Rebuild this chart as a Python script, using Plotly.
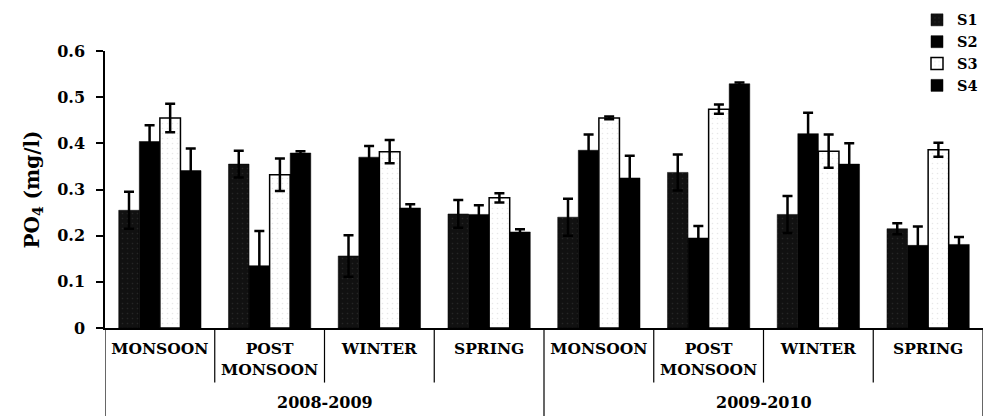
import plotly.graph_objects as go

seasons = ["MONSOON", "POST<br>MONSOON", "WINTER", "SPRING"]
years = ["2008-2009", "2009-2010"]
categories = seasons + seasons

s1 = [0.255, 0.355, 0.156, 0.247, 0.240, 0.337, 0.246, 0.215]
s1_err = [0.040, 0.029, 0.045, 0.030, 0.040, 0.039, 0.040, 0.012]
s2 = [0.404, 0.135, 0.370, 0.246, 0.385, 0.195, 0.421, 0.179]
s2_err = [0.035, 0.075, 0.024, 0.020, 0.034, 0.026, 0.045, 0.041]
s3 = [0.455, 0.332, 0.382, 0.282, 0.455, 0.474, 0.383, 0.386]
s3_err = [0.031, 0.035, 0.025, 0.010, 0.003, 0.010, 0.036, 0.015]
s4 = [0.341, 0.379, 0.260, 0.208, 0.325, 0.529, 0.355, 0.181]
s4_err = [0.048, 0.004, 0.008, 0.006, 0.048, 0.003, 0.045, 0.016]

series = [
    ("S1", s1, s1_err, "#111111", "#3c3c3c"),
    ("S2", s2, s2_err, "#000000", None),
    ("S3", s3, s3_err, "#ffffff", "#d0d0d0"),
    ("S4", s4, s4_err, "#000000", None),
]

FONT = "DejaVu Serif"
xpos = list(range(len(categories)))

fig = go.Figure()
for name, vals, err, col, speck in series:
    marker = dict(color=col, line=dict(color="black", width=1.5 if name == "S3" else 0.5))
    if speck:
        marker["pattern"] = dict(shape=".", fgcolor=speck, bgcolor=col, size=5, solidity=0.08)
    fig.add_trace(go.Bar(
        name=name, x=xpos, y=vals,
        marker=marker,
        error_y=dict(type="data", array=err, visible=True, color="black", thickness=2.5, width=5),
    ))

shapes = []
n = len(categories)
for i in range(0, n + 1):
    xb = i - 0.5
    if i % len(seasons) == 0:
        y0 = -0.32
    else:
        y0 = -0.197
    shapes.append(dict(type="line", xref="x", yref="paper", x0=xb, x1=xb, y0=y0, y1=0,
                       line=dict(color="black", width=1.2)))

annotations = []
for k, yr in enumerate(years):
    xc = k * len(seasons) + (len(seasons) - 1) / 2
    annotations.append(dict(text=yr, x=xc, xref="x", y=-0.268, yref="paper", showarrow=False,
                            yanchor="middle", font=dict(family=FONT, size=16, color="black", weight="bold")))

fig.update_layout(
    width=987, height=416,
    margin=dict(l=105, r=4, t=47, b=88),
    paper_bgcolor="white", plot_bgcolor="white",
    barmode="group", bargap=0.25, bargroupgap=0,
    font=dict(family=FONT, color="black"),
    showlegend=True,
    legend=dict(x=1.0, xanchor="right", y=1.17, yanchor="top",
                font=dict(family=FONT, size=14.5, color="black", weight="bold"),
                bgcolor="rgba(0,0,0,0)", tracegroupgap=0, itemwidth=30),
    shapes=shapes,
    annotations=annotations,
)
fig.update_xaxes(
    range=[-0.5, n - 0.5], tickvals=xpos, ticktext=categories,
    showline=True, linecolor="black", linewidth=1.5, ticks="", showgrid=False, zeroline=False,
    ticklabelstandoff=6,
    tickfont=dict(family=FONT, size=15.5, color="black", weight="bold"),
)
fig.update_yaxes(
    range=[0, 0.6], dtick=0.1, showline=True, linecolor="black", linewidth=1.5,
    ticks="outside", ticklen=7, tickwidth=1.5, tickcolor="black", showgrid=False, zeroline=False,
    ticklabelstandoff=8,
    tickfont=dict(family=FONT, size=16, color="black", weight="bold"),
    title=dict(text="PO<sub>4</sub> (mg/l)", font=dict(family=FONT, size=20, color="black", weight="bold"), standoff=12),
)

fig.write_html("out.html")
